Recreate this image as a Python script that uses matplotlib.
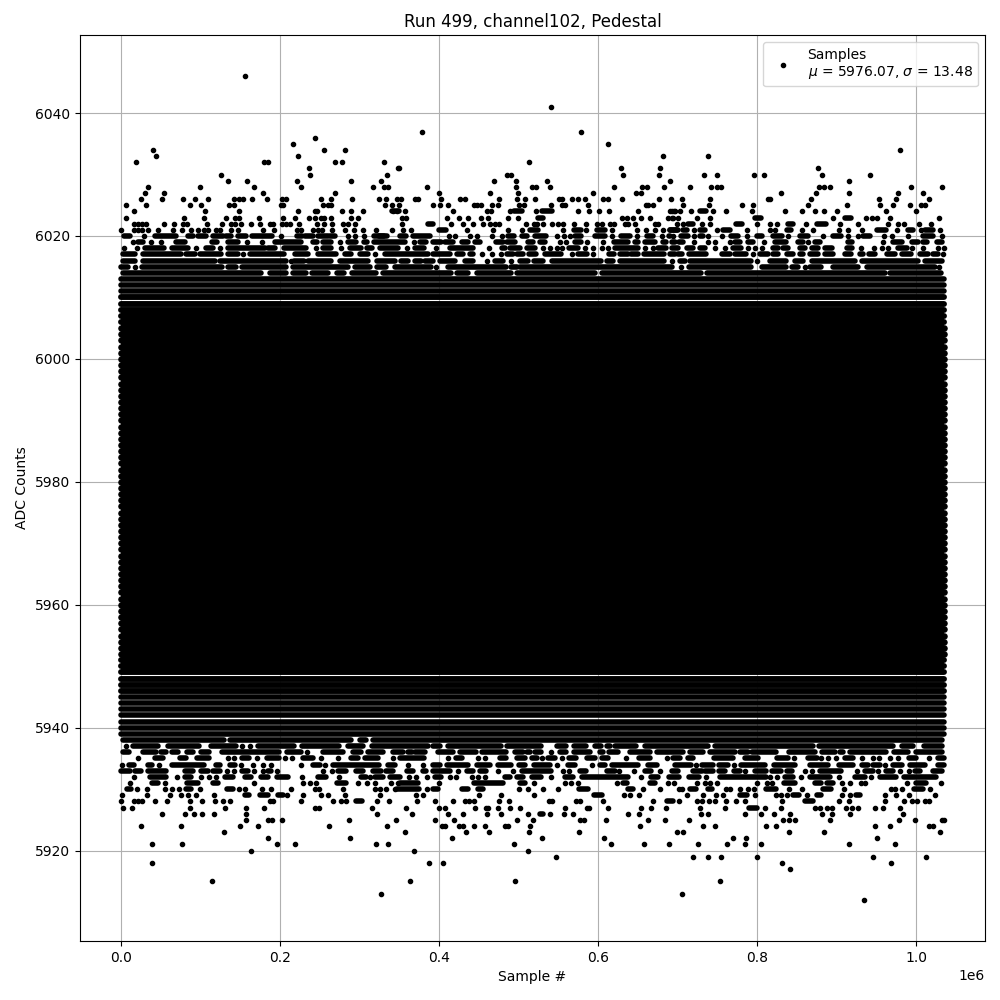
import matplotlib
matplotlib.use("Agg")
import matplotlib.pyplot as plt

# x values are sample numbers in thousands per ADC level.
# a plain number is one visible dot, a tuple is a stretch of merged dots
upper_rows = {
	6046: [155.9],
	6041: [541],
	6037: [378.7, 578.8],
	6036: [244],
	6035: [216, 612.8],
	6034: [40, 255, 282, 980],
	6033: [44, 222.6, 682, 738.6],
	6032: [18.7, 180, 185, 269, 278, 331, 513.4],
	6031: [236.4, 348, 349.7, 629, 678, 877],
	6030: [125.7, 237.7, 334.6, 486, 490, 631.7, 677, 733.6, 750, 796.5, 809, 882, 942.5],
	6029: [134.5, 158, 221, 289, 327, 469, 496.6, 536, 691, 916],
	6028: [33.8, 99, 167, 226, 317, 331, 336, 385, 497, 517, 522, 540, 620.3, 655.6, 662, 683, 716, 742.4, 750, 755, 878.3, 884.6, 892, 994, 1033],
	6027: [30, 54, 178.5, 269, 400, 464, 499.5, 594, 648, 654.3, 830.5, 874.6, 916, 977.8, 1009],
	6026: [25, 51, 78, 93, 109, 142, 148, 153, 165, 183.5, 202, 207, 251.5, 264, 290.5, 324.5, 333, 347, 352, 370, 374, 402.6, 426.5, 433, 475.6, 498, 508, 521, 551, 554, 567.5, 575, 584, 606.5, 613, 630.4, 677, 692, 706, 741, 814, 816.7, 868, 954, 975, 1016.8],
	6025: [6, 31, 86.6, 100.5, 135.7, 142, 201, 204, 254, 260, 264, 332, 341, 350, 392.5, 401, 411.4, 444, 448, 453, 466.8, 474.3, 500.8, 507, 541, 555, 559, 587.6, 660.6, 663, 669.4, 707, 740, 781.4, 795, 864.5, 913.6, 955, 971.5, 992.9, 1006.7, 1011.8],
	6024: [16, 105.5, 148, 222.6, 244, 246, 278, 289, 304, 342, 347, (341, 350), 357.3, 417.7, 460.5, 465.5, 489.4, (494.5, 504.5), 522, (530, 542), 575, 589, 601.5, 614, 650.5, 693.3, 697, 690.8, 695.8, 703.4, 717, (726, 738.6), 745, 761.3, 794, 835.6, 857, 873.3, 884.6, 901, 962.7, 1000.4],
	6023: [6, 79, 104, 132, 143, 148, 173.5, 204, 219, 236, 244, 251.5, 255, 264, 289, 298, 353.5, 358.5, 410, 425, 436.6, 453, 462, 487, 499.5, (525, 531), 630.4, 637, 644.3, 654.3, 665.6, 688.3, 693, 694.6, 700.9, 724.8, 741, (798, 805), 896, (908.5, 921), 937.5, 945, 951, 967.7, 1029.4],
	6022: [16, 21, 26, 31, 54, 66.5, 78, 83, 108, 127, 138, 143, 151, 163, 175, 187, 191, 202, 207, 212, 224, 246, 255, 265, 279, 285, 294, 353.5, (386, 392.5), 415, 430, 443, 455.5, 464, 470.6, 475.6, 509.6, 519.6, 523.4, 531, 542, 550, 556, 570, 585, 599, 605.3, 615.3, 620.3, 634, 638, 647, 672, 675.7, 699.6, 707, (713.5, 719.8), 731, 741, (773.9, 780.6), 800.3, 816.7, 825.5, (839.3, 845.6), 862, (875.8, 886.7), 904.8, 927.4, 965.2, 977.4, 985.3, 1004.2, 1019.3],
	6021: [0, 16, 21, 26, 34, 46, 65, 76.5, 88, 97, 104, 109, 119, 124, 138, 147, 178.5, 192, 221, 226, 241, 248, 253, 265, 282, 293, 304, 320, 341, 354.8, 365, (397.6, 411.4), 435, 468, 487, 504.5, (512, 527), 556, (570, 579), 585, (599, 609), 617.8, 649.3, 660.6, 672, 682, (691, 699), (688.3, 703), (707, 711.4), 721, (728, 734.4), 750, (757.5, 766), 787.7, 816.7, 823, (838, 842.3), 857, 870.8, 903.5, 914.8, 932.5, (948.8, 965.2), 976.5, (990.4, 996.7), 1006.7, (1011.8, 1021.8), 1030.6],
	6020: [(1, 14), 29, (40, 71), (84, 90), (97, 107), (116, 128), (132, 138), (147, 157), (162, 192), 201, (221, 227), (231, 241), (248, 260), (263, 269), 285, 294, 306, (315, 333), (325, 334.6), (348.5, 361), (365, 391), 412.7, 420, 439, 448, 466, 479, (487, 494.5), (504.5, 511), (518.4, 537.3), 547.8, 557.4, 565, (571, 579), (594, 611.5), 617.8, (626.6, 643), 649.3, (659.4, 672), 680.8, (689.6, 690.4), 694.6, (703.8, 713.5), 721, (728, 732.3), 738.6, 756.3, (765, 778.5), 787.7, (800.3, 805.8), (820.4, 831), 839.3, (854.4, 864.5), 883.4, (893.5, 908.5), 914.8, 927.4, (933.7, 942), 960, 970.2, 990.4, (1006.7, 1024), 1033],
	6019: [15, (21, 27), 38, 50, (67, 83), (114, 120), (132, 149), 158, 177, (191, 229), (241, 246), (252, 267), 275, (285, 296), (305, 309), (315, 359), 368.6, (375.7, 384), (392.5, 403), (407, 418), (426, 439), (445, 451), (472, 481), (485, 495), (512, 518.4), (527, 533), 552, 559.5, (571, 579), 586.4, 606.5, (618, 640), (646, 650.6), (657, 673.6), (682, 686), (692.5, 696.7), (702, 707), 721, 738.6, 747.4, 766.3, (772.6, 778.5), (789, 795.3), 809, (820.4, 839.3), (852, 858.2), 864.5, (872.9, 879.2), (914.8, 920), 958.9, (971.5, 982), (994.6, 1003), (1009.2, 1013.4), (1026.9, 1032.3)],
	6018: [3, 20, (27.5, 57), (61, 86), 94.6, (107, 116), 125, (132, 183), (185, 193), (202, 235), 245.7, (252, 267), 276, (285, 304), (309, 315), (323, 350.6), 359, (367.4, 384), 396.7, (411.4, 445), 463, (479.4, 482.7), (487, 503.7), (508, 522.6), 531, 539, 547.8, 554, (560.4, 577), 583.4, 594, 604.4, 612.8, (619, 652.6), 659, 669.4, (675.7, 686), (690.4, 703), (709.3, 721.9), (728, 734.4), 747.4, 760, (767.6, 782.7), 789, 797.4, 806.6, (820.4, 826.7), (833, 839.3), (854, 860.3), (866.6, 879.2), (885.5, 893.9), (912.8, 919), 930.8, 947.6, 956.8, 965.2, (977.8, 988.3), 995.4, 1009.2, 1028, 1035],
	6017: [(0, 20), (25.4, 78), (82, 92.5), (96.7, 128), (132, 149), 153, (160, 208), (216, 237), (245.7, 273), (279, 292), (298, 313), 319, (329.6, 388.3), (390.4, 415.6), (422, 430.3), (438.7, 443), 453.4, 466, 478.5, (485, 493.2), (497.4, 505.8), (510, 524.7), (531, 556), 566.6, (575, 585.5), 594, (610.7, 623), (627.5, 638), (642, 650.6), (654.8, 686), (690.4, 696.7), (700.9, 705), (711.4, 738.6), (755.4, 766), (770.1, 789), 795.3, (803.7, 814), (820.4, 826.7), (835, 847.7), (854, 858.2), (864.5, 879.2), (883.4, 898), (908.5, 921), (929.5, 933.7), (937.9, 950.5), (963, 973.6), (979.9, 996.7), (1003, 1017.7), (1021.8, 1028), 1034],
	6016: [(0, 20), (25.4, 120), (122, 210), 214, (218, 230), (233, 267), (273, 313), (319, 346.4), (352.7, 361), (369.5, 377.8), (382, 392.5), (398.8, 422), (430.3, 445), 459.7, (468, 482.7), 491, (501.6, 512), (516.3, 533), (539.4, 606.5), (610.7, 619), (625.4, 686), 692.5, (703, 709.3), (713.5, 795.3), 799.5, (814, 839.3), (845.6, 860.3), (866.6, 925.3), (929.5, 1005), (1009.2, 1035)],
	6015: [(0, 8.6), 17, (23.3, 130), (134.5, 145), (149, 210), (214, 287.6), (292, 315), (319, 336), (342, 392.5), 396.7, (409.3, 487), (491, 497.4), (499.5, 695.4), 703.8, (711.4, 795.3), (803.7, 839.3), (843.5, 851.9), 860.3, (864.5, 883.4), (892.6, 929.5), (935.8, 1026), 1029.4],
	6014: [(0, 178.5), (185, 210), (214, 235), (237, 262.4), (269, 283), (288.5, 323), (327.5, 417.7), (419.8, 438.7), (445, 493.2), (495.3, 598), (602, 732), (734.4, 963), (965.2, 1034)],
}

lower_rows = {
	5912: [935],
	5913: [327, 705.9],
	5915: [114.3, 363.6, 495.7, 753.7],
	5917: [841.8],
	5918: [38.8, 387.5, 405.1, 831.8, 969],
	5919: [547.3, 719.8, 738.6, 755, 800.3, 946.3, 1013],
	5920: [163.4, 368.6, 512.1],
	5921: [38.8, 76.6, 196, 218.8, 320.7, 335.8, 494.5, 616.6, 658.1, 689.5, 726, 762.6, 785.2, 805.3, 916.1, 974],
	5922: [184.8, 288, 416.4, 529.7, 607.8, 770.1, 786.5, 951.4],
	5923: [129.4, 357.3, 434, 463, 513.4, 576.3, 699.6, 707.2, 840.6, 884.6, 1030.6],
	5924: [25, 75.3, 149.6, 172.2, 261.6, 334.6, 403.9, 407.6, 425.3, 430.3, 444.1, 458, 482.7, 486.9, 514.6, 653.1, 732.3, 747.4, 811.6, 824.2, 948.8, 967.7, 1016.8, 1021.8],
	5925: [157, 184.8, 189.8, 202.4, 286.8, 345.9, 395, 419, 498.3, 518.4, 577.5, 582.6, 610.3, 663.1, 684.5, 714.7, 833, 840.6, 848.1, 892.2, 979, 999.2, 1033.2, 1035],
	5926: [51.4, 80.3, 91.7, 101.7, 116.8, 157, 322, 366.1, 411.4, 430.3, 460.5, 478.1, 512.1, (526.8, 531), 539.8, 557.4, 568.7, 638, 651.8, 729.8, 738.6, 785.2, 805.3, 821.7, 841.8, 882.1, 894.7, 917.4, 984.1],
	5927: [2.3, 13.6, 86.6, 130.7, 157, 179.8, 244, 249, 315.7, 358.5, 400, 407.6, 445.4, 459.2, 461.8, 474.3, 489.4, 502, 558.7, 586.4, 588.9, 612.8, 654.3, 667, 685.8, 728.6, 760, (790.2, 799.5), 810.4, 830.5, 873.3, 879.6, 888.4, 894.7, 912.3, 919.9, 927.4, 948.8, 958.9, 980.3],
	5928: [0, 16, 21, 26.2, 42.6, 57.7, 86.6, 101.7, 118, 128.2, 137, 187.3, 191, 226.4, 266.6, 276.7, 283.4, (295.6, 303), 322, 337.1, 372.4, 395, 417.7, 432.8, 437.8, 444.1, 475.6, 488.2, 538.5, 542.3, 572.5, 577.5, 606.5, 669.4, (687, 694.6), 702.1, 724.8, 730.2, 739.9, 747.4, 761.3, 773.9, 785.2, 831.8, (860.7, 870.8), 903.5, 916.1, 961.4, 985.3, 995.4, 1001.7, 1011.8, 1016.8],
	5929: [1, 32.5, 61.5, 75.3, 84.1, 94.2, 116.8, (155.9, 161), (174.3, 184.8), (197.4, 203.7), 208.7, 228.9, 251.5, 260.3, 281.7, 325.8, 371.1, 380, 450.4, 478.1, 519.6, (595.2, 605.2), 632.9, 640.5, 651.8, 712.2, 732.3, 748.7, 757.5, (776.4, 790.2), 797.8, 824.2, 830.5, 838.1, (845.6, 853.2), 863.2, (875.8, 880.9), 907.3, 917.4, (924.9, 929.9), 961.4, 975.3, 991.6, 1024.4],
	5930: [(7.3, 12.4), 19.9, 32.5, 55.2, 64, 72.8, (82, 88.3), 99.2, (133.2, 140.8), 148.3, 155.9, 177.3, 188.6, 213.8, 244, 249, 279.2, 319.5, 325.8, 333.3, 344.6, (344.7, 377.8), 385, (392.5, 398.8), (428.2, 436.6), (449.2, 455.5), 500, 512.1, 531, 549.9, (572.9, 589.7), (638, 644.3), 656.9, 677.8, 702.2, 705.9, (713.5, 726), (738.6, 743.7), 761.3, 766.3, 778.9, 789, 796.5, (809.1, 826.7), 840.6, 857, (883.4, 893.4), 909.8, 969, 974, 982.8, (997.9, 1009.2), 1018],
	5931: [11.1, (38.8, 46.4), 55.2, (80, 98.8), (115.6, 121.9), 167.2, 228.9, 237.7, 245.2, (268.7, 285.5), 298, 309.4, 319.5, 339.6, 348.4, (348.5, 375.7), 400, (440.8, 482.7), (501.6, 507.9), 519.6, 558.2, 566.2, 575, 624.1, (631.7, 636.7), (665.2, 671.5), 688.3, 695.8, 724.8, 734.9, 741.2, 750, 800.3, 812.9, 819.2, (831.8, 850.7), (870.8, 883.4), (887.6, 896), 906.5, 917, 931.2, 936.2, 989.1, (997.9, 1015.5), 1031.9],
	5932: [16.2, (33.8, 59), 70.3, (80, 88.3), 100.5, 110.6, 119.4, (128.2, 142.9), (153.3, 166), (173.5, 187), (193.2, 212), 227.6, (247.7, 258.2), 274.2, (302.3, 308.6), 313.2, (319, 329.6), (336, 352.7), 362.3, 371.1, 385, (392.5, 405), 413.9, 421.5, 441.6, 449.2, 457.6, (482.7, 489), (495.3, 507.9), (514.2, 531), 541, (558.2, 568.7), (577.1, 640), 654.3, (666.1, 675.7), (687, 703.8), (712.2, 729.8), 736.1, (751.2, 814.2), 816.7, 825.5, (833, 847.7), 855.7, (864.5, 893.9), 903.5, (921.1, 937.9), 943.8, (952.6, 977.8), (982.8, 1028.1)],
	5933: [(0, 10.7), (17, 25.4), (31.7, 59), (80, 90.4), (100.9, 109.3), (115.6, 124), 133.2, 142, (149.1, 161.7), 167.2, 178.5, (184.8, 189), 196, 254, 265.4, (272.9, 283.4), (296, 304.4), (314.9, 329.6), (333.8, 342.2), (356.9, 369.5), (380, 384), (390.4, 415.6), 424, (434.5, 442.9), (449.2, 461.8), 474.3, 492.4, (501.6, 543.6), 556.2, 563.7, (575, 587.6), (610.7, 621.2), 626.6, 645.5, (656.9, 669.4), 678.2, (690.4, 703), (719.8, 730.2), (734.4, 745), (752.5, 760), (771, 778.5), 785.2, (795.3, 814.2), (816.2, 833), (837.2, 843.5), 860.7, 868.7, (877.1, 908.5), 926.2, (933.7, 948.4), 952.6, (959.7, 973.6), 980.3, 991.6, (998.8, 1005), (1018.5, 1035)],
	5934: [1, (9.9, 16.2), (33.8, 38.8), 47.6, (61, 107.2), (119.8, 124), (136.6, 142.9), 151.2, 166, 178.5, 189, 226.4, (241.5, 249.8), 256.6, (264.5, 327.5), (333.8, 346.4), 361, 380, (392.5, 400.9), (407.2, 438.7), (445, 466), (472.2, 493.2), (497.4, 510), (516.3, 541.5), 547.8, (562.4, 570.8), 591.8, (602.3, 608.6), (614.9, 652.6), (663.1, 673.6), (694.6, 719.8), 723.5, (728.1, 747), (752.5, 763.8), 771.4, (777.7, 812), (818.3, 849.8), (864.5, 891.8), (900.2, 923.2), (931.6, 940), (946.3, 954.7), 961, (971.5, 982), (990.4, 1013.4), (1028.1, 1035)],
	5935: [21.2, (42.2, 52.6), (73.6, 81.2), (92.5, 113.5), 134.5, 142, (149.1, 163.8), 171, (180.6, 201.6), 206.2, 215, (226.8, 243.5), 252, 272.9, (289.7, 298), (304.4, 325.4), 342, (348.5, 384.1), 411.4, (421, 428.2), 449.2, 458, (474.3, 487), (495.3, 510), (516.3, 522.6), 528.9, (537.3, 545.7), 554.9, (561.2, 575), (583.4, 598), (604.4, 612.8), 635.5, (648.4, 667.3), 687, (694.6, 703), (713.5, 719.8), (742.8, 772.2), (782.7, 803.7), (822.5, 841.4), 846.9, (864.5, 875), 880.9, 889.7, 898.9, (910.6, 921.1), 932.5, 946.3, 953.9, 967.3, 977.8, (988.3, 1003), 1016.8, (1028.1, 1035)],
	5936: [(0, 12.8), (25.4, 46.4), (50.6, 56.9), (61, 73.6), (80, 92.5), (98, 113.5), (124, 201.6), (205.8, 228.9), 234, (252, 281.3), (289.7, 304.4), (308.6, 331.7), (340.1, 356.9), (361, 365.3), (370.3, 382), (396.7, 419.8), (424, 449.2), (451.3, 487), (495.3, 505.8), (510, 514.2), (518.4, 531), 541, (549.9, 562.4), (566.6, 591.8), (602.3, 606.5), (610.7, 627.5), (638, 667.3), (671.5, 709.3), (713.5, 734.4), (737.8, 774.3), (778.5, 789), (791.1, 826.7), (837.2, 875), (879.2, 900.2), (904.4, 908.5), (914.8, 965.2), (969.4, 992.5), (997.5, 1035)],
	5937: [6.5, (12.8, 48.5), (56, 100.9), (110.6, 147), 152.5, 162.6, (169.3, 220.5), (224.7, 277), (283.4, 306.5), (312.8, 388.3), (392.5, 400.9), (408.5, 480.6), (482.7, 531), (545.7, 562.4), (566.6, 587.6), (593.9, 606.5), (610.7, 614.9), (619.1, 650.6), (656.9, 740.7), (745, 872.9), (875, 973.6), (979.9, 998.8), (1007.1, 1035)],
	5938: [(0, 132.4), (134.5, 291.8), (298, 310.7), (314.9, 1035)],
}

# stripes over the whole run: thin light gaps on the outside, nearly closed further in, solid in the core
open_levels = [5939, 5940, 5941, 5942, 5943, 5944, 5945, 6011, 6012, 6013]
tight_levels = [5946, 5947, 5948, 5949, 5950, 5951, 6006, 6007, 6008, 6009, 6010]
core_levels = list(range(5952, 6006))
# solid black between these two levels
solid_low = 5949
solid_high = 6008
run_start = 0
run_end = 1035

title = "Run 499, channel102, Pedestal"
legend_label = "Samples\n$\\mu$ = 5976.07, $\\sigma$ = 13.48"

fig, ax = plt.subplots(figsize=(10, 10))

dots_x = []
dots_y = []
for rows in (upper_rows, lower_rows):
	for level, row in rows.items():
		for item in row:
			if isinstance(item, tuple):
				start, end = item
				# long stretches were read edge to edge, the round caps add the dot radius back
				if end - start > 12:
					start = start + 2.5
					end = end - 2.5
				ax.hlines(level, start * 1000, end * 1000, color="black", lw=4, capstyle="round", snap=True)
			else:
				dots_x.append(item * 1000)
				dots_y.append(level)

ax.hlines(open_levels, run_start * 1000, run_end * 1000, color="black", lw=4, capstyle="round", snap=True)
ax.hlines(tight_levels, run_start * 1000, run_end * 1000, color="black", lw=4.25, capstyle="round", snap=True)
ax.hlines(core_levels, run_start * 1000, run_end * 1000, color="black", lw=4.8, capstyle="round")
# the stripes leave hairlines between them, the middle has none
ax.fill_between([run_start * 1000, run_end * 1000], solid_low, solid_high, color="black", lw=0, zorder=2)
ax.plot(dots_x, dots_y, "k.", label=legend_label)

ax.set_title(title, pad=5.5)
ax.set_xlabel("Sample #")
ax.set_ylabel("ADC Counts")
ax.grid(True)
ax.legend(loc="upper right")

fig.subplots_adjust(left=0.08, right=0.985, top=0.965, bottom=0.059)
fig.savefig("out.png", dpi=100)
